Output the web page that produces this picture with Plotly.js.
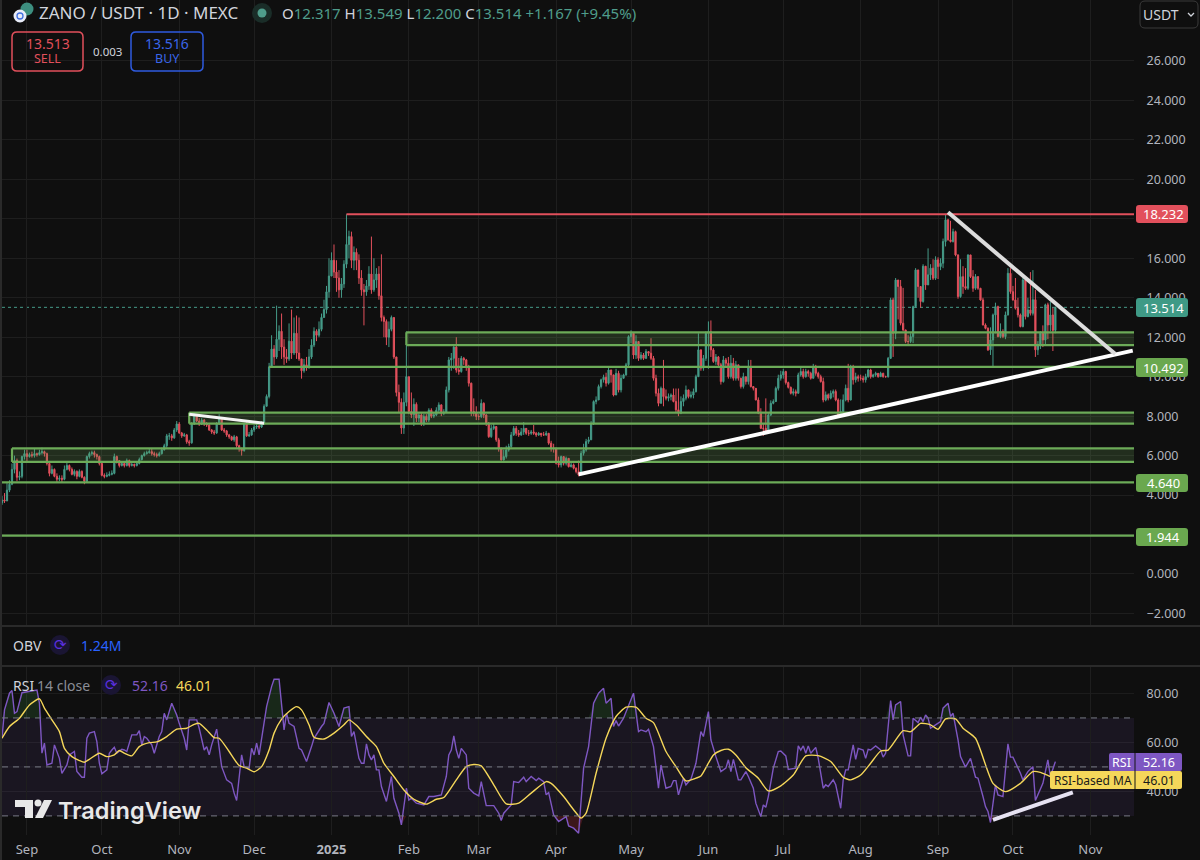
<!DOCTYPE html>
<html><head><meta charset="utf-8">
<script src="https://cdn.plot.ly/plotly-3.0.1.min.js"></script>
<style>html,body{margin:0;padding:0;background:#0f0f0f}#c{width:1200px;height:860px}</style>
</head><body><div id="c"></div>
<script>
// ---------- price data, one small array per month (first candle 2024-08-22) ----------
const closeAug24=[3.75,3.70,4.25,4.55,5.30,5.75,4.90,4.95,5.95,6.10];
const highAug24 =[3.95,4.10,4.60,4.75,5.60,6.00,5.85,5.20,6.00,6.30];
const lowAug24  =[3.50,3.60,3.70,4.15,4.50,5.10,4.70,4.75,4.85,5.80];
const closeSep24=[5.95,6.05,6.00,6.10,6.05,6.15,6.20,6.10,5.60,5.10,5.30,4.95,4.80,4.85,4.80,5.30,5.50,5.30,5.05,5.20,4.95,5.20,4.90,4.70,5.95,6.10,6.15,6.05,5.95,5.60];
const highSep24 =[6.30,6.15,6.20,6.35,6.15,6.30,6.40,6.25,6.15,5.70,5.50,5.35,5.10,5.00,5.00,5.50,5.65,5.55,5.40,5.30,5.25,5.30,5.25,4.95,6.00,6.20,6.25,6.25,6.10,6.00];
const lowSep24  =[5.70,5.90,5.90,5.90,5.95,6.00,6.05,5.95,5.50,4.95,5.05,4.90,4.65,4.70,4.65,4.75,5.25,5.20,5.00,4.95,4.80,4.90,4.85,4.55,4.65,5.85,6.00,5.90,5.80,5.50];
const closeOct24=[5.0,4.95,5.0,5.05,5.1,5.95,5.75,5.5,5.6,5.5,5.75,5.5,5.55,5.5,5.6,5.8,6.0,6.1,6.15,6.2,6.1,6.05,6.0,6.1,6.3,6.5,7.0,7.0,6.9,7.3,7.6];
const highOct24 =[5.7,5.1,5.15,5.2,5.25,6.1,6.0,5.75,5.7,5.7,5.85,5.8,5.65,5.6,5.7,5.9,6.05,6.2,6.25,6.35,6.35,6.2,6.15,6.2,6.4,6.6,7.1,7.15,7.1,7.4,7.75];
const lowOct24  =[4.95,4.85,4.9,4.95,5.0,5.05,5.6,5.4,5.45,5.4,5.45,5.4,5.45,5.4,5.45,5.55,5.75,5.95,6.05,6.1,6.0,5.95,5.9,5.95,6.05,6.25,6.4,6.8,6.75,6.85,7.2];
const closeNov24=[7.15,7.0,7.05,6.7,6.65,7.6,8.05,7.75,7.6,7.8,7.6,7.55,7.3,7.2,7.15,7.6,7.9,7.3,7.25,7.05,6.95,6.8,6.95,6.5,6.35,6.25,7.6,7.0,7.05,7.3];
const highNov24 =[7.7,7.2,7.15,7.1,6.8,7.7,8.2,8.05,7.9,7.9,7.85,7.7,7.6,7.35,7.3,7.7,8.1,7.95,7.4,7.3,7.1,7.0,7.05,7.0,6.55,6.4,7.65,7.7,7.2,7.4];
const lowNov24  =[7.1,6.9,6.95,6.6,6.5,6.6,7.55,7.7,7.5,7.55,7.5,7.45,7.25,7.1,7.05,7.1,7.55,7.25,7.15,6.95,6.85,6.75,6.7,6.4,6.2,6.0,6.2,6.95,6.95,7.0];
const closeDec24=[7.45,7.5,7.45,7.6,8.5,9.0,10.5,11.4,11.0,11.9,12.3,11.5,11.0,10.9,11.8,11.2,12.2,11.2,10.9,10.3,10.6,10.5,11.0,11.6,12.3,12.1,12.4,13.0,13.4,14.3,15.1];
const highDec24 =[7.55,7.6,7.55,7.75,8.6,9.1,10.7,12.1,11.6,13.6,12.6,13.2,11.9,11.4,12.7,13.4,13.0,13.1,13.0,10.9,10.9,11.0,11.4,11.9,12.5,12.4,12.8,13.2,13.9,14.6,16.0];
const lowDec24  =[7.2,7.35,7.35,7.4,7.55,8.5,8.9,10.5,10.6,10.9,11.3,10.9,10.6,10.7,10.8,10.9,11.1,10.9,10.8,9.9,10.2,10.3,10.4,10.9,11.5,11.8,12.0,12.3,13.0,13.2,14.0];
const closeJan25=[15.9,15.3,15.0,14.4,14.7,15.7,16.7,17.1,15.9,16.3,15.9,15.0,14.4,14.3,14.6,15.2,14.4,14.9,15.2,14.1,13.0,12.8,12.0,12.4,13.0,11.0,9.2,8.7,7.4,8.7,10.0];
const highJan25 =[16.3,16.7,15.9,15.4,15.0,15.9,18.23,17.4,17.35,16.6,16.5,16.2,15.4,14.7,14.9,15.6,17.1,16.0,15.5,15.6,16.2,13.1,12.9,12.8,13.1,13.0,11.0,9.6,8.9,9.2,12.3];
const lowJan25  =[15.1,15.0,14.3,14.0,14.0,14.5,15.5,16.0,15.5,15.4,15.4,14.7,14.1,12.6,14.1,14.4,14.2,14.3,14.5,13.9,12.8,12.0,11.6,11.5,12.3,10.9,9.0,8.2,7.1,7.1,8.5];
const closeFeb25=[8.23,8.07,8.6,7.9,8.06,7.64,7.98,7.8,8.3,8.0,8.06,8.3,8.57,8.15,8.2,9.33,10.85,10.93,11.5,10.34,10.26,10.93,10.85,10.5,9.67,8.23,8.15,7.98];
const highFeb25 =[10.0,9.2,8.9,8.7,8.15,8.15,8.1,8.1,8.4,8.4,8.2,8.45,8.7,8.6,8.35,9.5,11.0,11.2,11.55,12.0,10.95,11.05,11.0,10.9,10.6,9.7,8.9,8.5];
const lowFeb25  =[8.1,7.9,7.5,7.7,7.7,7.5,7.5,7.7,7.7,7.9,7.9,8.0,8.2,8.0,8.05,8.2,9.2,10.3,10.4,10.2,10.1,10.2,10.6,10.3,9.5,8.0,8.0,7.8];
const closeMar25=[7.98,8.65,8.06,7.64,6.96,7.38,7.47,6.8,6.37,5.78,5.95,6.29,6.46,7.05,7.38,7.13,7.05,7.2,7.38,7.13,7.13,7.2,7.13,7.05,7.13,7.05,7.05,7.13,6.63,6.37,6.37];
const highMar25 =[8.1,8.85,8.7,8.1,7.7,7.55,7.6,7.5,6.9,6.4,6.3,6.5,6.6,7.2,7.5,7.5,7.3,7.4,7.7,7.35,7.3,7.3,7.55,7.2,7.2,7.15,7.2,7.25,7.15,6.75,6.6];
const lowMar25  =[7.8,7.9,7.9,7.5,6.9,6.9,7.3,6.7,6.2,5.75,5.75,5.85,6.2,6.4,7.0,7.0,6.95,7.0,7.05,7.05,7.0,7.05,7.05,6.95,7.0,6.95,7.0,7.0,6.55,6.2,6.15];
const closeApr25=[5.61,5.53,5.95,5.61,5.86,5.44,5.53,5.36,5.19,5.02,6.12,6.29,6.71,6.8,7.64,8.74,8.82,9.5,9.84,9.97,9.67,10.34,10.09,9.07,10.17,9.33,9.92,10.09,10.6,12.03];
const highApr25 =[6.4,5.95,6.0,5.95,5.95,5.85,5.65,5.6,5.4,5.75,6.25,6.6,6.85,6.95,7.75,8.8,9.0,9.6,9.9,10.1,10.2,10.5,10.35,10.0,10.4,10.3,10.1,10.15,10.7,12.1];
const lowApr25  =[5.55,5.4,5.4,5.5,5.5,5.4,5.4,5.3,5.1,4.95,5.1,6.0,6.2,6.6,6.8,7.55,8.6,8.95,9.4,9.7,9.5,9.6,9.7,9.0,9.1,9.2,9.2,9.9,10.05,10.5];
const closeMay25=[12.2,11.1,11.78,10.93,11.1,10.93,11.27,11.19,10.93,9.92,9.16,8.65,9.41,8.99,8.91,8.99,9.07,8.74,8.32,8.15,8.74,8.91,9.33,8.99,9.07,9.24,10.0,11.36,10.43,10.93,12.2];
const highMay25 =[12.35,12.25,12.1,11.8,11.25,11.2,11.4,11.25,11.95,11.05,10.1,9.4,9.5,10.85,9.35,9.15,9.15,9.4,9.4,9.4,9.0,9.1,9.55,9.15,9.25,9.4,10.1,12.2,11.0,11.1,12.3];
const lowMay25  =[11.7,10.9,10.9,10.8,10.85,10.85,10.9,11.05,10.85,9.8,9.0,8.5,8.9,8.5,8.8,8.75,8.8,8.7,8.2,8.0,8.1,8.5,8.8,8.9,8.9,8.9,9.2,10.0,10.3,10.3,10.8];
const closeJun25=[12.28,11.36,10.77,11.0,10.6,9.75,10.85,10.68,10.0,10.68,9.92,10.6,9.92,9.5,10.0,9.75,10.5,9.5,9.41,8.82,8.15,7.38,7.38,7.2,8.06,8.65,8.74,9.41,9.92,10.09];
const highJun25 =[12.8,12.85,11.45,11.15,11.05,10.7,11.05,10.95,11.0,11.1,10.95,10.8,10.6,9.95,10.2,10.0,10.85,10.85,9.5,9.0,8.95,8.4,7.6,8.9,8.2,8.8,8.85,9.5,10.1,10.3];
const lowJun25  =[10.4,11.0,10.7,10.6,10.5,9.6,9.7,10.5,9.9,9.9,9.8,9.8,9.8,9.4,9.4,9.6,9.6,9.45,9.3,8.8,8.1,7.35,7.0,7.2,7.1,8.0,8.6,8.8,9.3,9.8];
const closeJul25=[10.26,9.7,9.46,9.16,9.24,9.16,10.09,10.26,10.0,10.26,10.17,9.92,10.51,10.17,10.0,9.75,8.82,9.08,8.91,9.16,9.25,8.82,8.06,8.23,8.82,9.41,8.82,10.51,9.84,10.0,9.92];
const highJul25 =[10.4,10.3,9.75,9.5,9.4,9.35,10.2,10.45,10.4,10.4,10.35,10.25,10.65,10.6,10.25,10.1,9.95,9.25,9.15,9.3,9.35,9.35,8.9,8.85,9.1,9.6,10.65,10.6,10.6,10.2,10.1];
const lowJul25  =[9.9,9.6,9.4,9.1,9.05,9.0,9.2,10.0,9.9,9.95,10.0,9.85,9.9,10.05,9.9,9.7,8.7,8.75,8.8,8.85,8.95,8.75,8.0,8.0,8.15,8.75,8.7,8.8,9.6,9.7,9.75];
const closeAug25=[9.92,9.84,10.0,10.34,10.0,10.09,10.17,10.0,10.17,10.0,10.0,10.93,13.89,12.2,14.9,14.57,12.71,12.37,11.78,11.78,12.03,13.55,15.41,14.57,13.81,15.6,14.65,15.16,15.5,14.99,15.92];
const highAug25 =[10.1,10.05,10.15,10.4,10.4,10.15,10.25,10.15,10.25,10.2,10.05,11.0,14.0,14.0,15.0,14.75,14.9,14.5,12.3,12.1,12.2,13.6,15.5,15.2,14.1,15.7,15.15,16.5,15.7,15.95,16.1];
const lowAug25  =[9.8,9.7,9.7,9.95,9.9,9.95,10.0,9.95,10.0,9.95,9.95,9.95,10.9,11.0,11.9,12.9,12.6,12.3,11.7,11.65,11.7,11.7,13.5,14.0,13.5,13.75,14.4,14.9,14.9,14.9,14.9];
const closeSep25=[15.58,15.75,16.85,17.95,16.93,16.85,17.35,16.17,14.06,15.07,14.57,14.48,16.17,15.07,14.48,15.07,14.48,13.89,12.62,12.45,11.36,11.86,13.13,13.55,12.03,12.29,12.03,13.13,15.24,14.31];
const highSep25 =[16.05,16.0,17.0,18.23,18.0,17.9,17.5,17.4,16.2,15.95,15.6,15.5,16.2,15.4,15.4,15.2,15.1,14.5,14.0,12.7,12.5,12.5,13.2,13.75,13.6,12.7,12.4,13.3,15.5,15.5];
const lowSep25  =[14.95,15.4,15.5,16.6,16.9,16.8,16.8,16.1,13.95,14.0,14.2,14.4,14.4,15.0,14.3,14.4,14.4,13.85,12.6,12.4,11.3,11.1,10.5,12.2,12.0,11.95,11.95,11.9,13.1,14.2];
const closeOct25=[13.89,13.47,13.13,12.54,14.9,13.05,13.38,13.21,13.9,11.36,11.61,12.2,11.86,13.64,12.62,13.13,12.347,13.514];
const highOct25 =[14.6,15.0,14.0,13.2,15.0,15.0,14.0,15.3,15.4,14.4,11.8,12.3,12.6,13.7,13.75,13.8,13.5,13.549];
const lowOct25  =[13.85,13.4,13.0,12.5,12.5,12.9,13.0,13.1,13.1,11.0,11.1,11.4,11.5,11.6,11.9,12.3,11.3,12.2];

// ---------- RSI: day offset from 2024-09-01 and reading at each vertex of the line ----------
const rsiDays=[-10,-9,-7,-6,-5,-4,-2,1,4,5,6,7,8,10,11,13,14,16,17,19,20,22,23,24,25,27,28,29,30,32,33,34,35,36,38,39,40,42,44,45,46,47,48,50,51,53,54,55,56,58,60,61,63,64,65,68,69,71,72,73,74,76,78,80,82,83,84,86,87,89,90,91,92,93,95,96,98,99,101,102,103,104,105,107,109,110,112,114,115,118,119,121,123,125,127,129,130,131,132,133,134,135,136,137,138,139,140,141,142,144,146,147,149,150,152,153,154,156,159,161,163,166,168,169,170,171,172,173,174,176,177,179,181,182,184,187,189,190,191,194,195,197,199,200,202,204,205,207,208,209,211,213,216,217,219,221,223,225,227,229,231,232,234,235,236,237,239,241,243,245,246,248,249,251,253,254,256,258,259,260,261,263,264,266,268,270,271,273,274,276,278,280,281,282,283,285,286,288,289,291,292,294,295,296,297,299,301,302,304,305,308,309,310,311,312,313,314,316,317,319,320,321,323,324,326,327,328,329,331,332,333,335,336,337,338,340,342,343,344,346,347,348,350,351,353,354,355,357,358,359,360,361,362,364,366,367,369,370,371,373,374,376,378,380,381,383,384,385,386,388,389,391,393,394,395,398,399,401,403,404,407,409,410,412];
const rsiValues=[61.7,73.3,80.1,81.2,71.9,72.6,80.3,80.8,81.4,76,55.6,59.7,50.8,51.5,59,53.5,47.4,50.8,54.9,56.3,48.1,45.8,45.8,61.7,63.8,64.4,60.3,51.5,47.2,48.8,55.6,56.9,58,55.6,57.2,56.9,56.3,63.1,63.1,64.8,59,62.4,61.7,59,55.6,62.4,64.4,71.9,69.2,76,71.2,67.8,61.7,56.9,69.2,69.2,65.8,56.9,58.3,54.9,59,65.4,50.1,44.7,43.3,39.3,36.3,54.9,50.1,49.5,57.6,54.9,59.7,54.9,67.8,74.6,82.8,85.8,85.8,76,65.1,71.9,67.8,66.5,57.6,56.9,52.2,58.3,61.7,66.5,67.8,76.3,71.9,66.5,74,74.6,62.4,64.4,59,53.5,51.5,51.5,59.4,54.9,52.9,54.9,48.8,48.8,42,35.9,46.1,37.2,31.1,26.3,41.3,36.5,37.2,35.2,34.5,37.9,37.9,38.6,46.1,54.9,56.9,62.7,56.9,53.5,57.6,54.9,41.3,39.3,38.2,44,34.2,34.2,31.1,28.1,31.1,34.5,44,43.6,45.8,44,46.1,44.4,45.4,44,38.6,39.5,30.4,27.7,29.7,25.9,25,22.9,49.5,58.3,76,80.1,82.1,76,78,66.5,68.9,66.7,69.9,74.9,80.1,64.4,65.1,64.4,65.4,58.3,41.3,50.8,41.3,42,44.4,44.4,38.6,45.4,42.7,45,51.5,64.4,62.4,72.6,61,54.2,48.1,49.5,52.9,48.1,53.1,44.7,44.7,48.1,46.1,41.3,35.2,29.7,34.5,33.5,37.9,49.5,56.3,56.5,54.5,49,49.5,58.6,56.9,58.6,55.6,58.6,55.6,58,53.5,41.3,42.7,42,44.7,42.7,33.1,44.7,48.8,48.8,59,53.1,57.6,56.9,53.5,57.2,56.9,58.6,56.9,54,55.6,77.1,69.2,75.3,76.7,63.1,54.5,54.5,69.9,68.1,70.3,68.5,71.2,69.9,65.8,67.2,68.5,74,76,70.6,71.9,61,54.2,49.9,53.5,45.8,45.4,37.9,33.8,31.8,27.3,42.7,38.6,37.9,59.4,54,54,47.4,44.7,48.1,50.1,36.3,43.3,52.9,46.1,52.16];
const maDays=[-10,-7,-3,1,5,7,10,13,15,18,21,23,25,29,32,35,37,39,42,45,49,52,56,60,64,67,69,72,75,77,81,85,88,91,94,97,99,102,105,108,110,113,115,119,123,127,129,132,136,140,143,147,151,155,160,164,167,172,176,179,182,187,192,197,202,208,210,215,219,222,224,228,232,236,240,244,248,251,256,260,264,268,270,275,278,281,284,288,293,297,302,307,312,317,322,327,330,334,338,342,345,351,354,358,362,365,368,372,375,380,387,392,398,403,406,410,412];
const maValues=[61.7,66.5,69.9,75.3,77.8,74,69.2,64.4,57.6,54.2,52.6,51.9,53.1,55.6,54.2,54.9,56.7,55.6,54.5,58.3,59.9,60.2,62.4,65.4,65.8,67.4,67.8,65.1,62,61.7,56.3,50.6,49.5,48,50.1,56.9,63.8,69.5,72.6,74.6,73.3,67.2,62.1,61.4,63.8,67.2,69.2,67,62.4,58.3,51.5,46.1,40.6,36.8,34.8,36.8,37.5,44.7,50.1,51,50.4,42.7,34.9,35.2,39.3,44,43.3,37.9,32.5,29.1,31.1,47.4,61.7,70.6,74.4,74.4,69.9,68.1,56.3,50.1,44.3,45.4,46.3,54.9,56.7,57.2,54.9,49.7,45.4,40.2,42.3,46.7,54.5,54.6,52.2,45.8,44.7,46.7,51.5,56.5,56.9,64.8,64.4,67.8,67.2,65.4,69.6,69.6,65.8,61.7,43.3,39.9,43.3,48.1,47.8,46.1,46.01];

// ---------- axis labels and drawn levels ----------
const monthTicks=['2024-09-01','2024-10-01','2024-11-01','2024-12-01','2025-01-01','2025-02-01','2025-03-01','2025-04-01','2025-05-01','2025-06-01','2025-07-01','2025-08-01','2025-09-01','2025-10-01','2025-11-01'];
const monthLabels=['Sep','Oct','Nov','Dec','<b>2025</b>','Feb','Mar','Apr','May','Jun','Jul','Aug','Sep','Oct','Nov'];
const priceTicks=[26,24,22,20,18,16,14,12,10,8,6,4,2,0,-2];
const priceLabels=['26.000','24.000','22.000','20.000','','16.000','14.000','12.000','10.000','8.000','6.000','4.000','','0.000','−2.000'];
const rsiTicks=[80,60,40];
const rsiLabels=['80.00','60.00','40.00'];
const rsiGrid=[80,60,50,40];
const zoneStarts=['2024-08-26','2024-11-05','2025-01-31'];
const zoneTops=[6.37,8.18,12.25];
const zoneBottoms=[5.68,7.62,11.60];
const lineStarts=['2024-08-22','2024-08-22','2024-12-07'];
const lineLevels=[1.944,4.64,10.492];
const resistanceStart='2025-01-07';
const resistanceLevel=18.232;
const lastClose=13.514;
const trendUpX=['2025-04-10','2025-11-18'];   const trendUpY=[5.05,11.32];
const trendDownX=['2025-09-05','2025-11-11']; const trendDownY=[18.33,11.15];
const trendSmallX=['2024-11-05','2024-12-05'];const trendSmallY=[8.1,7.64];
const trendRsiX=['2025-09-23','2025-10-25'];  const trendRsiY=[28.4,39.6];
const AXIS_END='2025-11-18 12:00';

// ---------- assemble ----------
const close=[].concat(closeAug24,closeSep24,closeOct24,closeNov24,closeDec24,closeJan25,closeFeb25,closeMar25,closeApr25,closeMay25,closeJun25,closeJul25,closeAug25,closeSep25,closeOct25);
const high=[].concat(highAug24,highSep24,highOct24,highNov24,highDec24,highJan25,highFeb25,highMar25,highApr25,highMay25,highJun25,highJul25,highAug25,highSep25,highOct25);
const low=[].concat(lowAug24,lowSep24,lowOct24,lowNov24,lowDec24,lowJan25,lowFeb25,lowMar25,lowApr25,lowMay25,lowJun25,lowJul25,lowAug25,lowSep25,lowOct25);
const DAY=864e5, SEP1=Date.UTC(2024,8,1), FIRST=Date.UTC(2024,7,22);
const iso=t=>new Date(t).toISOString().slice(0,10);
const dates=close.map((_,i)=>iso(FIRST+i*DAY));
const open=close.map((c,i)=>i?close[i-1]:3.6);
const rsiX=rsiDays.map(d=>iso(SEP1+d*DAY)), maX=maDays.map(d=>iso(SEP1+d*DAY));

// ---------- colours ----------
const BG='#0f0f0f',GRID='#1e1e1e',TXT='#b2b5be',UP='#459b88',DN='#e2505c',ZONE='#6cab58',PUR='#7e57c2',YEL='#f5d75a';
const FONT='"Noto Sans",sans-serif';

// ---------- pixel helpers for chrome ----------
const W=1200,H=860,px=x=>x/W,py=y=>1-y/H;
const ann=(x,y,text,o={})=>({xref:'paper',yref:'paper',x:px(o.anchor?x:x-2),y:py(y),text,showarrow:false,xanchor:o.anchor||'left',yanchor:'middle',
  font:{family:o.family||FONT,size:o.size||13,color:o.color||TXT,weight:o.weight||400}});
const rr=(x0,y0,x1,y1,r)=>{const X=px,Y=py;return `M${X(x0+r)},${Y(y0)}L${X(x1-r)},${Y(y0)}Q${X(x1)},${Y(y0)} ${X(x1)},${Y(y0+r)}L${X(x1)},${Y(y1-r)}Q${X(x1)},${Y(y1)} ${X(x1-r)},${Y(y1)}L${X(x0+r)},${Y(y1)}Q${X(x0)},${Y(y1)} ${X(x0)},${Y(y1-r)}L${X(x0)},${Y(y0+r)}Q${X(x0)},${Y(y0)} ${X(x0+r)},${Y(y0)}Z`;};
const box=(x0,y0,x1,y1,r,fill,line,lw)=>({type:'path',xref:'paper',yref:'paper',path:rr(x0,y0,x1,y1,r),fillcolor:fill,line:{color:line||fill,width:lw||0},layer:'above'});
const poly=(pts,fill)=>({type:'path',xref:'paper',yref:'paper',path:'M'+pts.map(p=>px(p[0])+','+py(p[1])).join('L')+'Z',fillcolor:fill,line:{width:0},layer:'above'});
const circ=(cx,cy,r,fill,line,lw)=>({type:'circle',xref:'paper',yref:'paper',x0:px(cx-r),x1:px(cx+r),y0:py(cy+r),y1:py(cy-r),fillcolor:fill,line:{color:line||fill,width:lw||0},layer:'above'});
const pxLine=(x0,y0,x1,y1,color,w,dash)=>({type:'line',xref:'paper',yref:'paper',x0:px(x0),x1:px(x1),y0:py(y0),y1:py(y1),line:{color,width:w,dash:dash||'solid'},layer:'above'});

const shapes=[];
// chart levels drawn through the axes: open on the right, closed on the left
zoneStarts.forEach((s,i)=>{
  shapes.push({type:'rect',xref:'x',yref:'y',x0:s,x1:AXIS_END,y0:zoneBottoms[i],y1:zoneTops[i],fillcolor:'rgba(108,171,88,0.2)',line:{width:0},layer:'above'});
  shapes.push({type:'line',xref:'x',yref:'y',x0:s,x1:AXIS_END,y0:zoneTops[i],y1:zoneTops[i],line:{color:ZONE,width:2.2},layer:'above'});
  shapes.push({type:'line',xref:'x',yref:'y',x0:s,x1:AXIS_END,y0:zoneBottoms[i],y1:zoneBottoms[i],line:{color:ZONE,width:2.2},layer:'above'});
  shapes.push({type:'line',xref:'x',yref:'y',x0:s,x1:s,y0:zoneBottoms[i],y1:zoneTops[i],line:{color:ZONE,width:2.2},layer:'above'});
});
lineStarts.forEach((s,i)=>shapes.push({type:'line',xref:'x',yref:'y',x0:s,x1:AXIS_END,y0:lineLevels[i],y1:lineLevels[i],line:{color:ZONE,width:2.2},layer:'above'}));
shapes.push({type:'line',xref:'x',yref:'y',x0:resistanceStart,x1:AXIS_END,y0:resistanceLevel,y1:resistanceLevel,line:{color:DN,width:2.2},layer:'above'});
shapes.push({type:'line',xref:'paper',yref:'y',x0:px(2),x1:px(1134),y0:lastClose,y1:lastClose,line:{color:UP,width:1,dash:'dot'},layer:'below'});
shapes.push({type:'line',xref:'x',yref:'y',x0:trendUpX[0],x1:trendUpX[1],y0:trendUpY[0],y1:trendUpY[1],line:{color:'#ffffff',width:4},layer:'above'});
shapes.push({type:'line',xref:'x',yref:'y',x0:trendDownX[0],x1:trendDownX[1],y0:trendDownY[0],y1:trendDownY[1],line:{color:'#dcdcdc',width:4},layer:'above'});
shapes.push({type:'line',xref:'x',yref:'y',x0:trendSmallX[0],x1:trendSmallX[1],y0:trendSmallY[0],y1:trendSmallY[1],line:{color:'#f4f4f4',width:3},layer:'above'});
// RSI band
shapes.push({type:'rect',xref:'paper',yref:'y2',x0:px(2),x1:px(1134),y0:30,y1:70,fillcolor:'rgba(126,87,194,0.1)',line:{width:0},layer:'below'});
[70,50,30].forEach(v=>shapes.push({type:'line',xref:'paper',yref:'y2',x0:px(2),x1:px(1134),y0:v,y1:v,line:{color:'#787b86',width:1,dash:'6px,5px'},layer:'above'}));
shapes.push({type:'line',xref:'x',yref:'y2',x0:trendRsiX[0],x1:trendRsiX[1],y0:trendRsiY[0],y1:trendRsiY[1],line:{color:'#e6e2f2',width:4},layer:'above'});
// pane chrome
shapes.push(pxLine(0,626,1200,626,'#2a2a2a',2));
shapes.push(pxLine(0,666,1200,666,'#2a2a2a',2));
shapes.push({type:'rect',xref:'paper',yref:'paper',x0:0,x1:px(2),y0:0,y1:1,fillcolor:'#2a2a2a',line:{width:0},layer:'above'});
// buttons
shapes.push(box(12,32,83,71,5,'rgba(0,0,0,0)','#e2505c',1.5));
shapes.push(box(131,32,203,71,5,'rgba(0,0,0,0)','#2f5be0',1.5));
shapes.push(box(1140,1,1198,28,5,'rgba(0,0,0,0)','#3a3a3a',1));
shapes.push({type:'path',xref:'paper',yref:'paper',path:`M${px(1188)},${py(13)}L${px(1191)},${py(16)}L${px(1194)},${py(13)}`,line:{color:'#d1d4dc',width:1.3},layer:'above'});
// header icons
shapes.push(circ(27,9,6.5,'#3d8f80'));
shapes.push(circ(20,16,6.5,'#e8ecf8'));
shapes.push(circ(20,16,3,'rgba(0,0,0,0)','#3f6fe0',1.3));
shapes.push(circ(262,13,10,'#1a2d28'));
shapes.push(circ(262,13,4.5,'#4f9d8b'));
// price tags
shapes.push(box(1136,205,1188,223,3,DN));
shapes.push(box(1136,298,1188,317,3,'#3f9a86'));
shapes.push(box(1136,358,1188,377,3,'#6aa84f'));
shapes.push(box(1136,474,1188,492,3,'#6aa84f'));
shapes.push(box(1136,528,1188,546,3,'#6aa84f'));
// RSI tags
shapes.push(box(1109,753,1182,771,2,PUR));
shapes.push(box(1050,771,1182,789,2,YEL));
shapes.push(pxLine(1135,753,1135,789,'#141414',1));
// indicator refresh icons
shapes.push(circ(60,645,10,'#1a1533'));
shapes.push(circ(111,685,10,'#1a1533'));
// TradingView mark
shapes.push(poly([[15,800],[33,800],[33,818],[25,818],[25,807],[15,807]],'#e8e8e8'));
shapes.push(circ(38,803,3.5,'#e8e8e8'));
shapes.push(poly([[44,800],[52,800],[43,818],[35,818]],'#e8e8e8'));

const annotations=[
  ann(39,13,'ZANO / USDT · 1D · MEXC',{size:17,color:'#d1d4dc'}),
  ann(282,13,`<span style="color:#d1d4dc">O</span>12.317 <span style="color:#d1d4dc">H</span>13.549 <span style="color:#d1d4dc">L</span>12.200 <span style="color:#d1d4dc">C</span>13.514 +1.167 (+9.45%)`,{size:15,color:'#4f9d8b'}),
  ann(47.5,43,'13.513',{size:14,color:DN,anchor:'center'}),
  ann(47.5,59,'SELL',{size:12.5,color:DN,anchor:'center'}),
  ann(107,51,'0.003',{size:11.5,color:'#d1d4dc',anchor:'center'}),
  ann(167,43,'13.516',{size:14,color:'#3a66e8',anchor:'center'}),
  ann(167,59,'BUY',{size:12.5,color:'#3a66e8',anchor:'center'}),
  ann(1143,14,'USDT',{size:14,color:'#d1d4dc'}),
  ann(1163,214,'18.232',{size:13,color:'#fff',anchor:'center'}),
  ann(1163,308,'13.514',{size:13,color:'#fff',anchor:'center'}),
  ann(1163,367.5,'10.492',{size:13,color:'#fff',anchor:'center'}),
  ann(1163,483,'4.640',{size:13,color:'#fff',anchor:'center'}),
  ann(1163,537,'1.944',{size:13,color:'#fff',anchor:'center'}),
  ann(13,645,'OBV',{size:14,color:'#d1d4dc'}),
  ann(60,645,'⟳',{size:15,color:'#5b2fe0',anchor:'center',family:'"DejaVu Sans"'}),
  ann(81,645,'1.24M',{size:14,color:'#2962ff'}),
  ann(13,685,'RSI',{size:14,color:'#d1d4dc'}),
  ann(37,685,'14 close',{size:14,color:'#8a8d96'}),
  ann(111,685,'⟳',{size:15,color:'#5b2fe0',anchor:'center',family:'"DejaVu Sans"'}),
  ann(132,685,'52.16',{size:14,color:PUR}),
  ann(176,685,'46.01',{size:14,color:YEL}),
  ann(1121,762,'RSI',{size:12.5,color:'#fff',anchor:'center'}),
  ann(1159,762,'52.16',{size:12.5,color:'#fff',anchor:'center'}),
  ann(1092.5,780,'RSI-based MA',{size:12,color:'#1a1a1a',anchor:'center'}),
  ann(1159,780,'46.01',{size:12.5,color:'#1a1a1a',anchor:'center'}),
  ann(58,810,'TradingView',{size:23.5,color:'#e8e8e8',family:'Inter,sans-serif',weight:600})
];

const traces=[
  {type:'scatter',mode:'lines',x:rsiX,y:rsiX.map(()=>70),xaxis:'x',yaxis:'y2',line:{width:0},hoverinfo:'skip'},
  {type:'scatter',mode:'lines',x:rsiX,y:rsiValues.map(v=>Math.max(v,70)),xaxis:'x',yaxis:'y2',line:{width:0},fill:'tonexty',fillcolor:'rgba(76,175,80,0.16)',hoverinfo:'skip'},
  {type:'scatter',mode:'lines',x:rsiX,y:rsiX.map(()=>30),xaxis:'x',yaxis:'y2',line:{width:0},hoverinfo:'skip'},
  {type:'scatter',mode:'lines',x:rsiX,y:rsiValues.map(v=>Math.min(v,30)),xaxis:'x',yaxis:'y2',line:{width:0},fill:'tonexty',fillcolor:'rgba(242,54,69,0.2)',hoverinfo:'skip'},
  {type:'scatter',mode:'lines',name:'RSI',x:rsiX,y:rsiValues,xaxis:'x',yaxis:'y2',line:{color:PUR,width:1.4}},
  {type:'scatter',mode:'lines',name:'RSI-based MA',x:maX,y:maValues,xaxis:'x',yaxis:'y2',line:{color:YEL,width:1.4,shape:'spline',smoothing:0.6}},
  {type:'candlestick',name:'ZANO/USDT',x:dates,open,high,low,close,xaxis:'x',yaxis:'y',whiskerwidth:0,
    increasing:{line:{color:UP,width:1},fillcolor:UP},decreasing:{line:{color:DN,width:1},fillcolor:DN}}
];

const layout={
  width:W,height:H,margin:{l:0,r:0,t:0,b:0},paper_bgcolor:BG,plot_bgcolor:BG,showlegend:false,hovermode:false,
  font:{family:FONT,color:TXT,size:13},
  xaxis:{type:'date',domain:[px(2),px(1134)],anchor:'y2',range:['2024-08-22',AXIS_END],tickmode:'array',tickvals:monthTicks,ticktext:monthLabels,
    showgrid:true,gridcolor:GRID,gridwidth:1,zeroline:false,showline:false,ticks:'outside',ticklen:2,tickcolor:'rgba(0,0,0,0)',tickfont:{size:13,color:TXT},rangeslider:{visible:false},tickangle:0},
  yaxis:{domain:[py(625),1],anchor:'x',side:'right',range:[-2.585,29.09],tickmode:'array',tickvals:priceTicks,ticktext:priceLabels,showgrid:true,gridcolor:GRID,zeroline:false,showline:false,
    ticks:'outside',ticklen:9,tickcolor:'rgba(0,0,0,0)',tickfont:{size:12.5,color:TXT}},
  yaxis2:{domain:[py(835),py(667)],anchor:'x',side:'right',range:[22.2,90.8],tickmode:'array',tickvals:rsiTicks,ticktext:rsiLabels,showgrid:false,zeroline:false,showline:false,
    ticks:'outside',ticklen:9,tickcolor:'rgba(0,0,0,0)',tickfont:{size:12.5,color:TXT}},
  shapes,annotations
};
rsiGrid.forEach(v=>shapes.unshift({type:'line',xref:'paper',yref:'y2',x0:px(2),x1:px(1134),y0:v,y1:v,line:{color:GRID,width:1},layer:'below'}));
Plotly.newPlot('c',traces,layout,{staticPlot:true,displayModeBar:false});
</script></body></html>
